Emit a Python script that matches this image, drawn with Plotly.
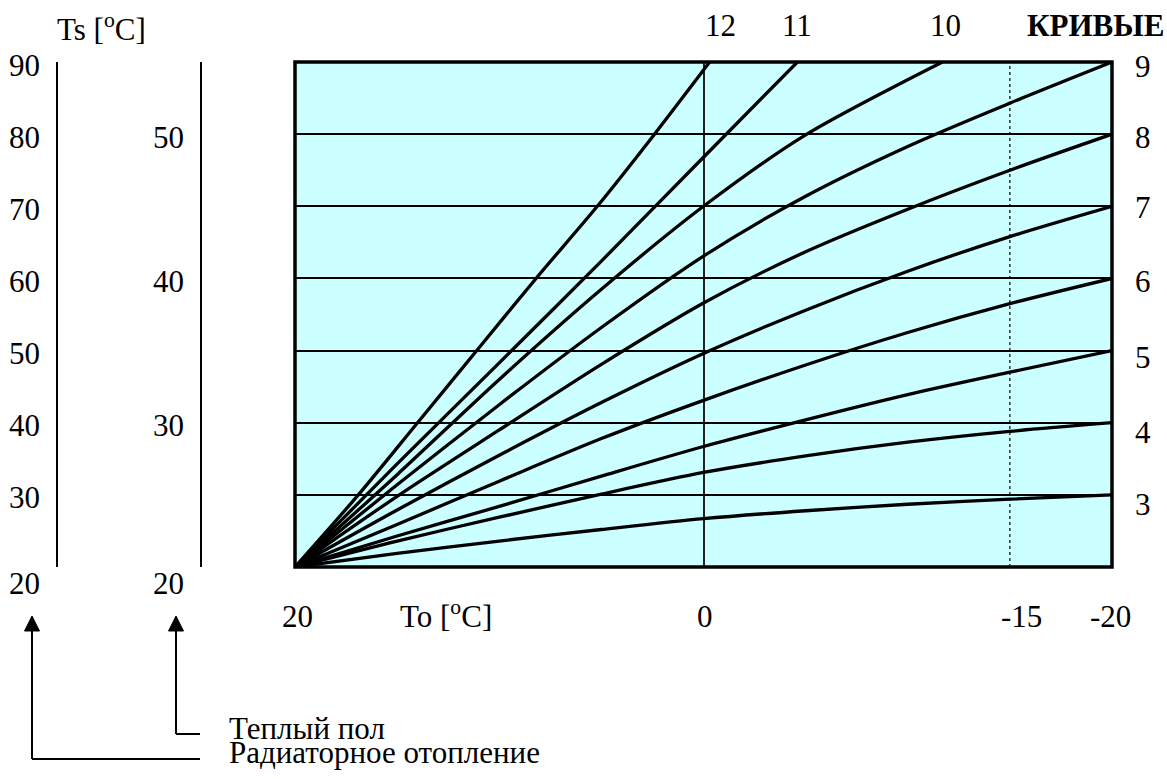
import plotly.graph_objects as go

# ---------------- data ----------------
to_grid = [20, 15, 10, 5, 0, -5, -10, -15, -20]
curve_3 = [20, 21.9, 23.6, 25.2, 26.7, 27.8, 28.7, 29.4, 30]
curve_4 = [20, 23.6, 26.9, 30.1, 33.1, 35.4, 37.3, 38.8, 40]
curve_5 = [20, 24.3, 28.4, 32.6, 36.7, 40.4, 43.9, 47.0, 50]
curve_6 = [20, 25.9, 31.9, 37.8, 43.1, 48.0, 52.5, 56.5, 60]
curve_7 = [20, 27.9, 35.5, 42.8, 49.6, 55.6, 61.0, 65.8, 70]
curve_8 = [20, 29.8, 39.0, 48.1, 56.6, 63.7, 69.6, 75.0, 80]
curve_9 = [20, 31.4, 42.5, 53.2, 63.1, 71.4, 78.3, 84.3, 90]
to_10 = [20, 15, 10, 5, 0, -5, -11.7]
curve_10 = [20, 32.8, 46.0, 58.5, 70.0, 79.9, 90]
to_11 = [20, 15, 10, 5, 0, -4.6]
curve_11 = [20, 34.3, 48.3, 62.4, 76.8, 90]
to_12 = [20, 16.9, 14.0, 11.1, 8.2, 5.2, 2.4, -0.3]
curve_12 = [20, 30, 40, 50, 60, 70, 80, 90]

curves = [
    ("3", to_grid, curve_3), ("4", to_grid, curve_4), ("5", to_grid, curve_5),
    ("6", to_grid, curve_6), ("7", to_grid, curve_7), ("8", to_grid, curve_8),
    ("9", to_grid, curve_9), ("10", to_10, curve_10), ("11", to_11, curve_11),
    ("12", to_12, curve_12),
]

ts_ticks = [90, 80, 70, 60, 50, 40, 30, 20]          # radiator heating scale
floor_ticks = [50, 40, 30, 20]                        # floor heating scale
floor_pos = [80, 60, 40, 20]                          # corresponding Ts
grid_ts = [30, 40, 50, 60, 70, 80]
to_tick_vals = [20, 0, -15, -20]
to_tick_text = ["20", "0", "-15", "-20"]
design_to = -15

# ---------------- layout helpers ----------------
W, H = 1167, 779
L, R, T, B = 295, 1112, 62, 567
FONT = "Liberation Serif"
FS = 31


def px(x):
    return (x - L) / (R - L)


def py(y):
    return (B - y) / (B - T)


def txt(**kw):
    d = dict(showarrow=False, xanchor="center", yanchor="middle",
             font=dict(family=FONT, size=FS, color="black"))
    d.update(kw)
    return d


fig = go.Figure()

for name, xs, ys in curves:
    fig.add_trace(go.Scatter(x=xs, y=ys, mode="lines", name=name,
                             line=dict(color="black", width=3.3, shape="spline", smoothing=0.8),
                             hoverinfo="skip", showlegend=False))

ann = []
shapes = []

# plot frame
shapes.append(dict(type="rect", xref="paper", yref="paper", x0=0, x1=1, y0=0, y1=1,
                   line=dict(color="black", width=3.5), layer="above"))
# dotted design-temperature line
shapes.append(dict(type="line", xref="x", yref="paper", x0=design_to, x1=design_to, y0=0, y1=1,
                   line=dict(color="black", width=1.2, dash="dot"), layer="below"))

# left scales
for xl in (57, 201):
    shapes.append(dict(type="line", xref="paper", yref="y", x0=px(xl), x1=px(xl), y0=20, y1=90,
                       line=dict(color="black", width=2)))

for v in ts_ticks:
    ann.append(txt(xref="paper", yref="y", x=px(24), y=v, text=str(v),
                   yshift=-16 if v == 20 else -3))
for v, p in zip(floor_ticks, floor_pos):
    ann.append(txt(xref="paper", yref="y", x=px(168), y=p, text=str(v),
                   yshift=-16 if v == 20 else -3))

ann.append(txt(xref="paper", yref="paper", x=px(101), y=py(28), text="Ts [<sup>o</sup>C]"))

# x tick labels
xshifts = {20: 2, 0: 1, -15: 12, -20: -2}
for v, t in zip(to_tick_vals, to_tick_text):
    ann.append(txt(xref="x", yref="paper", x=v, y=py(616), text=t, xshift=xshifts[v]))
ann.append(txt(xref="paper", yref="paper", x=px(446), y=py(614), text="To [<sup>o</sup>C]"))

# curve labels on the right / top
right_shift = {"9": -4, "8": -3, "7": -1, "6": -3, "5": -7, "4": -10, "3": -10}
top_shift = {"12": 11, "11": 0, "10": 3}
for name, xs, ys in curves:
    if xs[-1] == -20:
        ann.append(txt(xref="x", yref="y", x=xs[-1], y=ys[-1], text=name,
                       xshift=31, yshift=right_shift[name]))
    else:
        ann.append(txt(xref="x", yref="paper", x=xs[-1], y=py(26), text=name,
                       xshift=top_shift[name]))
ann.append(txt(xref="paper", yref="paper", x=px(1095), y=py(26), text="<b>КРИВЫЕ</b>"))

# arrows and captions at bottom
for xa, yb, label in ((32, 759, "Радиаторное отопление"), (176, 734, "Теплый пол")):
    shapes.append(dict(type="line", xref="paper", yref="paper", x0=px(xa), x1=px(xa),
                       y0=py(630), y1=py(yb), line=dict(color="black", width=2)))
    shapes.append(dict(type="line", xref="paper", yref="paper", x0=px(xa), x1=px(200),
                       y0=py(yb), y1=py(yb), line=dict(color="black", width=2)))
    shapes.append(dict(type="path", xref="paper", yref="paper",
                       path=f"M {px(xa)} {py(616)} L {px(xa - 7.5)} {py(631)} L {px(xa + 7.5)} {py(631)} Z",
                       fillcolor="black", line=dict(color="black", width=1)))
    ann.append(txt(xref="paper", yref="paper", x=px(227), y=py(yb - 6), text=label, xanchor="left"))

fig.update_layout(
    width=W, height=H, autosize=False,
    margin=dict(l=L, r=W - R, t=T, b=H - B, pad=0),
    paper_bgcolor="white", plot_bgcolor="#CCFFFF",
    xaxis=dict(range=[20, -20], tickvals=[0], showticklabels=False, ticks="",
               showgrid=True, gridcolor="#222222", gridwidth=1.5, zeroline=False, showline=False),
    yaxis=dict(range=[20, 90], tickvals=grid_ts, showticklabels=False, ticks="",
               showgrid=True, gridcolor="black", gridwidth=1.6, zeroline=False, showline=False),
    annotations=ann, shapes=shapes, showlegend=False,
)

fig.write_html("out.html", config={"displayModeBar": False},
               post_script="document.body.style.margin='0';document.body.style.overflow='hidden';")
